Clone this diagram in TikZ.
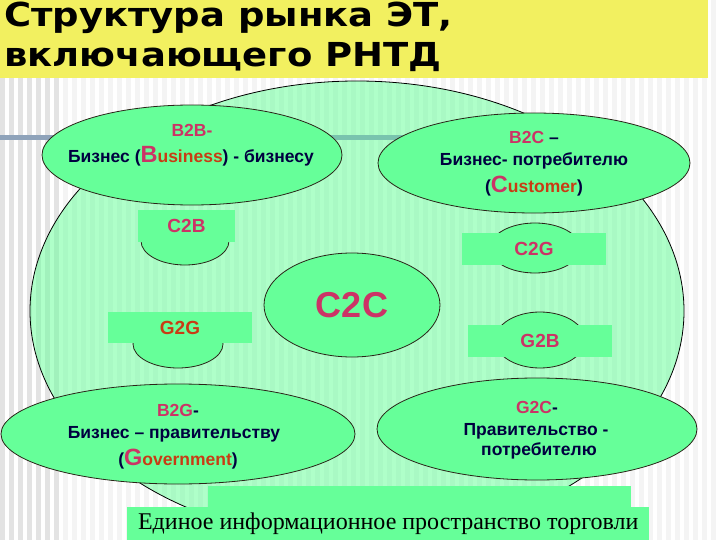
\documentclass[tikz,border=0pt]{standalone}
\usepackage{fontspec}
\setmainfont{Liberation Sans}
\newfontfamily\titlefont{DejaVu Sans}
\newfontfamily\seriffont{Liberation Serif}
\usetikzlibrary{shapes.geometric}
\definecolor{mint}{HTML}{66FF99}
\definecolor{crim}{HTML}{CC3366}
\definecolor{navy}{HTML}{000040}
\definecolor{rust}{HTML}{C83C14}
\definecolor{titley}{HTML}{F2F060}
\definecolor{barblue}{HTML}{8FA3BA}
\definecolor{barteal}{HTML}{79C4AE}
\definecolor{edge}{HTML}{2A2418}
\tikzset{
  oval/.style={ellipse, draw=edge, line width=0.8pt, fill=mint, inner sep=0},
  tagbox/.style={fill=mint, inner sep=0, minimum height=32, minimum width=144,
    font=\fontsize{19}{20}\selectfont\bfseries},
  lbl/.style={anchor=base, inner sep=0, font=\fontsize{17.5}{19}\selectfont\bfseries},
  titletxt/.style={anchor=base west, inner sep=0, font=\titlefont\fontsize{33}{38}\selectfont\bfseries},
}
\newcommand{\bigL}[1]{{\color{crim}\fontsize{23.5}{24}\selectfont #1}}
\newcommand{\widetitle}[1]{\scalebox{1.12}[1]{#1}}
\begin{document}
\begin{tikzpicture}[x=1pt,y=-1pt]
\useasboundingbox (0,0) rectangle (720,540);
% background stripes
\fill[white] (0,0) rectangle (720,540);
\foreach \x in {0,9,...,54} \fill[gray!22] (\x,0) rectangle ++(4.5,540);
\foreach \x in {63,72,...,720} \fill[gray!9] (\x,0) rectangle ++(4.5,540);
% title band
\fill[titley] (0,0) rectangle (708,78);
\node[titletxt] (t1) at (4,27) {\widetitle{Структура рынка ЭТ,}};
\node[titletxt] (t2) at (4,67) {\widetitle{включающего РНТД}};
% template bar
\fill[barblue] (0,135.5) rectangle (450,140.5);
% big ellipse
\node[ellipse, draw=black, line width=0.8pt, fill=mint, fill opacity=0.52,
  minimum width=654, minimum height=460, inner sep=0] (market) at (357,311) {};
\begin{scope}
  \clip (357,311) ellipse [x radius=326, y radius=229];
  \fill[barteal] (0,135.5) rectangle (450,140.5);
\end{scope}
% main ellipses
\node[oval, minimum width=300, minimum height=100] (b2b) at (192,155) {};
\node[lbl, text=crim] (b2bl1) at (192,137) {B2B-};
\node[lbl, text=navy] (b2bl2) at (191,163) {Бизнес (\bigL{B}{\color{rust}usiness}) - бизнесу};

\node[oval, minimum width=312, minimum height=100] (b2c) at (534,163) {};
\node[lbl] (b2cl1) at (534,144) {{\color{crim}B2C} {\color{navy}–}};
\node[lbl, text=navy] (b2cl2) at (534,166) {Бизнес- потребителю};
\node[lbl, text=navy] (b2cl3) at (534,193) {(\bigL{C}{\color{rust}ustomer})};

\node[oval, minimum width=354, minimum height=100] (b2g) at (178,434) {};
\node[lbl] (b2gl1) at (178,416) {{\color{crim}B2G}{\color{navy}-}};
\node[lbl, text=navy] (b2gl2) at (174,438) {Бизнес – правительству};
\node[lbl, text=navy] (b2gl3) at (178,465) {(\bigL{G}{\color{rust}overnment})};

\node[oval, minimum width=320, minimum height=102] (g2c) at (537,429) {};
\node[lbl] (g2cl1) at (537,413) {{\color{crim}G2C}{\color{navy} -}};
\node[lbl, text=navy] (g2cl2) at (536,435) {Правительство -};
\node[lbl, text=navy] (g2cl3) at (539,455) {потребителю};

\node[oval, minimum width=176, minimum height=104, text=crim,
  font=\fontsize{36}{38}\selectfont\bfseries] (c2c) at (352,305) {C2C};

% small tags
\node[oval, minimum width=88, minimum height=48] (c2bo) at (185,241) {};
\node[tagbox, minimum width=97, text=crim] (c2b) at (186.5,226) {C2B};
\node[oval, minimum width=90, minimum height=50] (c2go) at (535,248) {};
\node[tagbox, text=crim] (c2g) at (534,249) {C2G};
\node[oval, minimum width=90, minimum height=48] (g2go) at (178,344) {};
\node[tagbox, minimum height=31, text=rust] (g2g) at (180,327.5) {G2G};
\node[oval, minimum width=90, minimum height=56] (g2bo) at (540,340) {};
\node[tagbox, text=crim] (g2b) at (540,341) {G2B};

% bottom space
\fill[mint] (208,486) rectangle (631,507);
\node[fill=mint, inner sep=0, minimum width=522, minimum height=33, anchor=north west,
  font=\seriffont\fontsize{24}{26}\selectfont] (space) at (127,507)
  {Единое информационное пространство торговли};
\end{tikzpicture}
\end{document}
